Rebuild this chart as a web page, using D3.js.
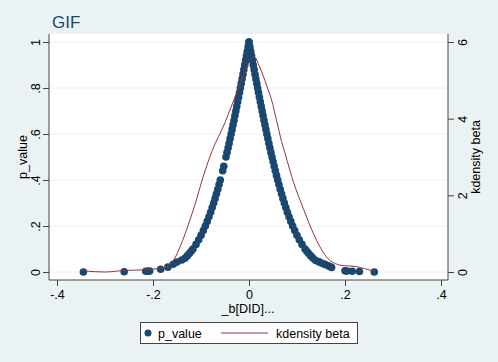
<!DOCTYPE html>
<html>
<head>
<meta charset="utf-8">
<script src="https://cdn.jsdelivr.net/npm/d3@7/dist/d3.min.js"></script>
<style>
  body { margin: 0; background: #eaf2f3; }
  svg text { font-family: "Liberation Sans", Arial, sans-serif; fill: #000; }
</style>
</head>
<body>
<svg id="chart" width="498" height="362"></svg>
<script>
// tick values and labels (Stata style, no leading zero)
const xTicks = [-0.4, -0.2, 0, 0.2, 0.4];
const xTickLabels = ['-.4', '-.2', '0', '.2', '.4'];
const pTicks = [0, 0.2, 0.4, 0.6, 0.8, 1];
const pTickLabels = ['0', '.2', '.4', '.6', '.8', '1'];
const kdTicks = [0, 2, 4, 6];
const kdTickLabels = ['0', '2', '4', '6'];

// main band of p_value points: p levels and beta read on each side
const bandP = [1.00, 0.98, 0.96, 0.94, 0.92, 0.90, 0.88, 0.86, 0.84, 0.82,
  0.80, 0.78, 0.76, 0.74, 0.72, 0.70, 0.68, 0.66, 0.64, 0.62,
  0.60, 0.58, 0.56, 0.54, 0.52, 0.50, 0.48, 0.46, 0.44, 0.42,
  0.40, 0.38, 0.36, 0.34, 0.32, 0.30, 0.28, 0.26, 0.24, 0.22,
  0.20, 0.18, 0.16, 0.14, 0.12, 0.10, 0.09, 0.08, 0.07, 0.06];
const bandBetaLeft = [0.0000, -0.0018, -0.0036, -0.0053, -0.0071, -0.0089, -0.0107, -0.0125, -0.0143, -0.0162,
  -0.0180, -0.0198, -0.0217, -0.0236, -0.0255, -0.0274, -0.0293, -0.0312, -0.0332, -0.0352,
  -0.0372, -0.0393, -0.0414, -0.0435, -0.0457, -0.0479, null, -0.0525, -0.0548, null,
  -0.0598, -0.0623, -0.0650, -0.0678, -0.0706, -0.0736, -0.0767, -0.0800, -0.0834, -0.0871,
  -0.0910, -0.0952, -0.0998, -0.1048, -0.1104, -0.1168, -0.1204, -0.1243, -0.1287, -0.1335];
const bandBetaRight = [0.0000, 0.0018, 0.0036, 0.0053, 0.0071, 0.0089, 0.0107, 0.0125, 0.0143, 0.0162,
  0.0180, 0.0198, 0.0217, 0.0236, 0.0255, 0.0274, 0.0293, 0.0312, 0.0332, 0.0352,
  0.0372, 0.0393, 0.0414, 0.0435, 0.0457, 0.0479, 0.0502, 0.0525, 0.0548, 0.0573,
  0.0598, 0.0623, 0.0650, 0.0678, 0.0706, 0.0736, 0.0767, 0.0800, 0.0834, 0.0871,
  0.0910, 0.0952, 0.0998, 0.1048, 0.1104, 0.1168, 0.1204, 0.1243, 0.1287, 0.1335];

// tail points outside the band
const tailBeta = [-0.140, -0.150, -0.158, -0.169, -0.184, -0.207, -0.211, -0.215, -0.260, -0.345,
  0.139, 0.146, 0.152, 0.158, 0.164, 0.168, 0.172, 0.200, 0.204, 0.215, 0.230, 0.261];
const tailP = [0.052, 0.043, 0.034, 0.021, 0.012, 0.004, 0.003, 0.003, 0.001, 0.000,
  0.050, 0.044, 0.038, 0.033, 0.028, 0.024, 0.020, 0.005, 0.004, 0.003, 0.002, 0.000];

// kernel density of beta
const kdBeta = [-0.345, -0.300, -0.260, -0.214, -0.190, -0.168, -0.155, -0.1435, -0.133, -0.123,
  -0.112, -0.100, -0.090, -0.081, -0.074, -0.060, -0.050, -0.039, -0.028, -0.018,
  -0.008, 0.000, 0.005, 0.010, 0.015, 0.019, 0.026, 0.033, 0.040, 0.047,
  0.0575, 0.068, 0.075, 0.085, 0.093, 0.1025, 0.113, 0.123, 0.135, 0.1476,
  0.158, 0.168, 0.180, 0.189, 0.205, 0.224, 0.240, 0.261];
const kdDensity = [0.03, 0.00, 0.04, 0.06, 0.09, 0.16, 0.35, 0.66, 1.00, 1.36,
  1.78, 2.30, 2.70, 3.02, 3.25, 3.62, 3.90, 4.25, 4.60, 4.93,
  5.25, 5.48, 5.57, 5.62, 5.56, 5.44, 5.24, 5.00, 4.75, 4.49,
  3.95, 3.40, 3.10, 2.66, 2.33, 2.00, 1.66, 1.34, 0.98, 0.66,
  0.45, 0.31, 0.22, 0.18, 0.16, 0.14, 0.09, 0.02];

const navy = '#1a476f';
const maroon = '#90353b';
const axisColor = '#444';

const svg = d3.select('#chart');
const W = 498, H = 362;
const plot = { left: 49, right: 448, top: 34, bottom: 280 };

svg.append('rect').attr('width', W).attr('height', H).attr('fill', '#eaf2f3');
svg.append('rect')
  .attr('x', plot.left).attr('y', plot.top)
  .attr('width', plot.right - plot.left).attr('height', plot.bottom - plot.top)
  .attr('fill', '#fff');

const x = d3.scaleLinear().domain([-0.4, 0.4]).range([57, 441]);
const y = d3.scaleLinear().domain([0, 1]).range([272, 42]);
const y2 = d3.scaleLinear().domain([0, 6]).range([272, 42]);

// gridlines
svg.append('g').selectAll('line')
  .data(pTicks)
  .enter().append('line')
  .attr('x1', plot.left).attr('x2', plot.right)
  .attr('y1', d => y(d)).attr('y2', d => y(d))
  .attr('stroke', '#eaf2f3').attr('stroke-width', 1);

// points
const points = [];
bandP.forEach((p, i) => {
  if (bandBetaLeft[i] !== null) points.push({ b: bandBetaLeft[i], p });
  if (bandBetaRight[i] !== null) points.push({ b: bandBetaRight[i], p });
});
tailBeta.forEach((b, i) => points.push({ b, p: tailP[i] }));

svg.append('g').selectAll('circle')
  .data(points)
  .enter().append('circle')
  .attr('cx', d => x(d.b))
  .attr('cy', d => y(d.p))
  .attr('r', 3.8)
  .attr('fill', navy);

// kdensity line
const kdData = kdBeta.map((b, i) => ({ b, d: kdDensity[i] }));
const line = d3.line()
  .x(d => x(d.b))
  .y(d => y2(d.d))
  .curve(d3.curveMonotoneX);

svg.append('path')
  .datum(kdData)
  .attr('fill', 'none')
  .attr('stroke', maroon)
  .attr('stroke-width', 1)
  .attr('d', line);

// axes
const styleAxis = g => {
  g.select('.domain').remove();
  g.selectAll('.tick line').attr('stroke', axisColor);
  g.selectAll('text').style('font-size', '12.5px').attr('fill', '#000');
};

svg.append('g')
  .attr('transform', `translate(0,${plot.bottom})`)
  .call(d3.axisBottom(x).tickValues(xTicks).tickSize(6).tickPadding(4)
    .tickFormat((d, i) => xTickLabels[i]))
  .call(styleAxis);

const gy = svg.append('g')
  .attr('transform', `translate(${plot.left},0)`)
  .call(d3.axisLeft(y).tickValues(pTicks).tickSize(6)
    .tickFormat((d, i) => pTickLabels[i]))
  .call(styleAxis);
gy.selectAll('text')
  .attr('transform', 'rotate(-90)')
  .attr('x', 0).attr('y', -9).attr('dy', 0)
  .attr('text-anchor', 'middle');

const gy2 = svg.append('g')
  .attr('transform', `translate(${plot.right},0)`)
  .call(d3.axisRight(y2).tickValues(kdTicks).tickSize(6)
    .tickFormat((d, i) => kdTickLabels[i]))
  .call(styleAxis);
gy2.selectAll('text')
  .attr('transform', 'rotate(-90)')
  .attr('x', 0).attr('y', 19).attr('dy', 0)
  .attr('text-anchor', 'middle');

// axis lines
svg.append('path')
  .attr('d', `M${plot.left},${plot.top}V${plot.bottom}H${plot.right}V${plot.top}`)
  .attr('fill', 'none')
  .attr('stroke', axisColor)
  .attr('stroke-width', 1);

// titles
svg.append('text')
  .attr('x', 52).attr('y', 28)
  .style('font-size', '17px')
  .style('fill', navy)
  .text('GIF');

svg.append('text')
  .attr('transform', 'translate(27,157) rotate(-90)')
  .attr('text-anchor', 'middle')
  .style('font-size', '12.5px')
  .text('p_value');

svg.append('text')
  .attr('transform', 'translate(480,157) rotate(-90)')
  .attr('text-anchor', 'middle')
  .style('font-size', '12.5px')
  .text('kdensity beta');

svg.append('text')
  .attr('x', 248).attr('y', 313)
  .attr('text-anchor', 'middle')
  .style('font-size', '12.5px')
  .text('_b[DID]...');

// legend
const legend = svg.append('g');
legend.append('rect')
  .attr('x', 140.5).attr('y', 322.5)
  .attr('width', 217).attr('height', 21)
  .attr('fill', '#fff')
  .attr('stroke', axisColor);
legend.append('circle')
  .attr('cx', 148).attr('cy', 333).attr('r', 3.5)
  .attr('fill', navy);
legend.append('text')
  .attr('x', 158).attr('y', 338)
  .style('font-size', '12.5px')
  .text('p_value');
legend.append('line')
  .attr('x1', 221).attr('x2', 268)
  .attr('y1', 333).attr('y2', 333)
  .attr('stroke', maroon).attr('stroke-width', 1);
legend.append('text')
  .attr('x', 276).attr('y', 338)
  .style('font-size', '12.5px')
  .text('kdensity beta');
</script>
</body>
</html>
